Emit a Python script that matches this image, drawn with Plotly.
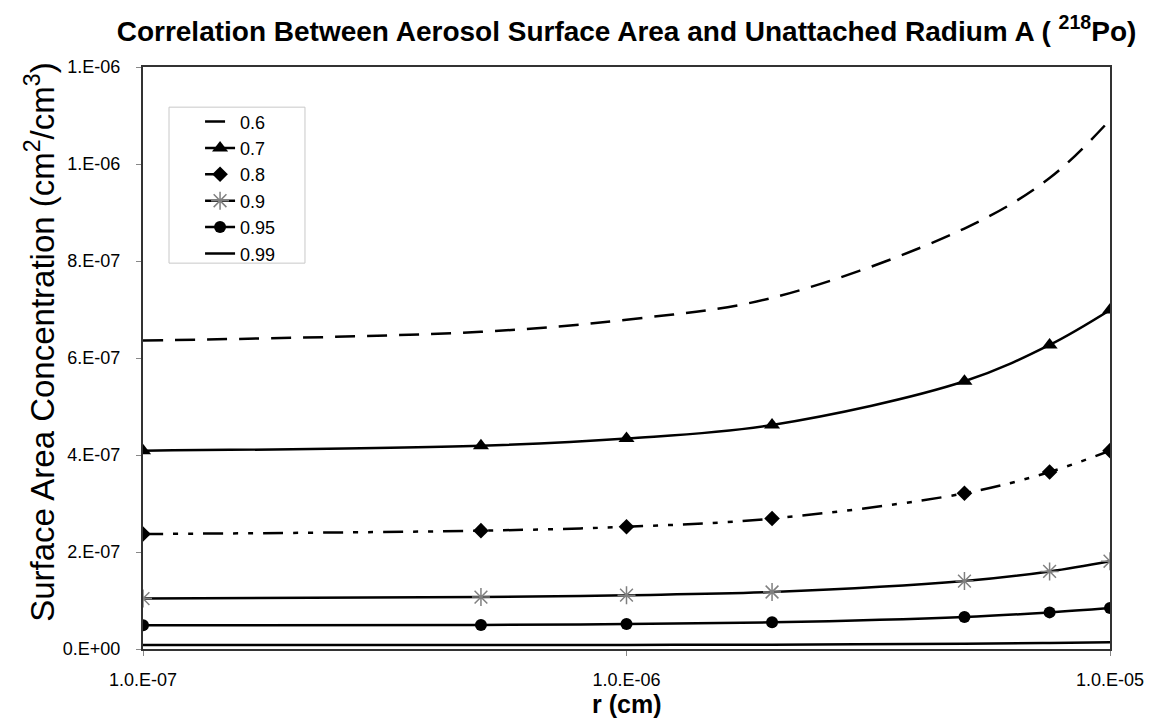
import plotly.graph_objects as go

r_cm = [1e-7, 5e-7, 1e-6, 2e-6, 5e-6, 7.5e-6, 1e-5]

s_06 = [6.36e-7, 6.54e-7, 6.79e-7, 7.24e-7, 8.67e-7, 9.71e-7, 1.091e-6]
s_07 = [4.09e-7, 4.19e-7, 4.34e-7, 4.62e-7, 5.52e-7, 6.27e-7, 6.99e-7]
s_08 = [2.37e-7, 2.44e-7, 2.52e-7, 2.69e-7, 3.21e-7, 3.65e-7, 4.09e-7]
s_09 = [1.04e-7, 1.07e-7, 1.11e-7, 1.175e-7, 1.40e-7, 1.60e-7, 1.81e-7]
s_095 = [4.9e-8, 4.95e-8, 5.15e-8, 5.5e-8, 6.6e-8, 7.55e-8, 8.45e-8]
s_099 = [8.0e-9, 8.2e-9, 8.5e-9, 9.0e-9, 1.1e-8, 1.25e-8, 1.4e-8]

series_names = ["0.6", "0.7", "0.8", "0.9", "0.95", "0.99"]

y_tickvals = [0, 2e-7, 4e-7, 6e-7, 8e-7, 1e-6, 1.2e-6]
y_ticktext = ["0.E+00", "2.E-07", "4.E-07", "6.E-07", "8.E-07", "1.E-06", "1.E-06"]
x_tickvals = [1e-7, 1e-6, 1e-5]
x_ticktext = ["1.0.E-07", "1.0.E-06", "1.0.E-05"]

FONT = "Liberation Sans, Arial, sans-serif"
NARROW = "Liberation Sans Narrow, Arial Narrow, Liberation Sans, Arial, sans-serif"

fig = go.Figure()

fig.add_trace(go.Scatter(x=r_cm, y=s_06, name=series_names[0], mode="lines",
                         line=dict(color="black", width=2.5, dash="20px,12px", shape="spline")))
fig.add_trace(go.Scatter(x=r_cm, y=s_07, name=series_names[1], mode="lines+markers",
                         line=dict(color="black", width=2.5, shape="spline"),
                         marker=dict(symbol="triangle-up", size=14, color="black")))
fig.add_trace(go.Scatter(x=r_cm, y=s_08, name=series_names[2], mode="lines+markers",
                         line=dict(color="black", width=2.5, dash="20px,10px,5px,10px,5px,10px", shape="spline"),
                         marker=dict(symbol="diamond", size=12, color="black")))
fig.add_trace(go.Scatter(x=r_cm, y=s_09, name=series_names[3], mode="lines+markers",
                         line=dict(color="black", width=2.5, shape="spline"),
                         marker=dict(symbol="asterisk-open", size=15, color="#808080",
                                     line=dict(color="#808080", width=1.5))))
fig.add_trace(go.Scatter(x=r_cm, y=s_095, name=series_names[4], mode="lines+markers",
                         line=dict(color="black", width=2.5, shape="spline"),
                         marker=dict(symbol="circle", size=12, color="black")))
fig.add_trace(go.Scatter(x=r_cm, y=s_099, name=series_names[5], mode="lines",
                         line=dict(color="black", width=2.5, shape="spline")))

# legend frame (reference box is wider than Plotly's auto-sized legend)
fig.add_shape(type="rect", xref="paper", yref="paper",
              x0=0.0269, x1=0.1675, y0=0.663, y1=0.931,
              line=dict(color="#c8c8c8", width=1), fillcolor="white", layer="below")

fig.add_annotation(text="<b>r (cm)</b>", xref="paper", yref="paper",
                   x=0.5, y=-0.095, xanchor="center", yanchor="middle", showarrow=False,
                   font=dict(family=NARROW, size=25, color="black"))

fig.add_annotation(text="Surface Area Concentration (cm<sup>2</sup>/cm<sup>3</sup>)",
                   xref="paper", yref="paper", textangle=-90,
                   x=-0.106, y=0.527, xanchor="center", yanchor="middle", showarrow=False,
                   font=dict(family=NARROW, size=33, color="black"))

fig.update_layout(
    width=1153, height=719,
    paper_bgcolor="white", plot_bgcolor="white",
    margin=dict(l=135, r=51, t=59, b=78),
    title=dict(text="Correlation Between Aerosol Surface Area and Unattached Radium A ( <sup>218</sup>Po)",
               x=0.5, xref="paper", xanchor="center", y=0.968, yref="container", yanchor="middle",
               font=dict(family=NARROW, size=28, color="black", weight="bold")),
    font=dict(family=FONT, color="black"),
    showlegend=True,
    legend=dict(x=0.059, y=0.9376, xanchor="left", yanchor="top",
                bgcolor="rgba(0,0,0,0)", borderwidth=0,
                font=dict(family=FONT, size=18, color="black"),
                tracegroupgap=0),
)

fig.update_xaxes(type="log", range=[-7, -5], tickvals=x_tickvals, ticktext=x_ticktext,
                 showgrid=False, zeroline=False,
                 showline=True, linecolor="#333333", linewidth=2, mirror=True,
                 ticks="outside", ticklen=5, tickcolor="#888888", ticklabelstandoff=8,
                 tickfont=dict(family=FONT, size=18, color="black"))
fig.update_yaxes(range=[0, 1.2e-6], tickvals=y_tickvals, ticktext=y_ticktext,
                 showgrid=False, zeroline=False,
                 showline=True, linecolor="#333333", linewidth=2, mirror=True,
                 ticks="outside", ticklen=5, tickcolor="#888888", ticklabelstandoff=12,
                 tickfont=dict(family=FONT, size=18, color="black"))

fig.write_html("out.html")
